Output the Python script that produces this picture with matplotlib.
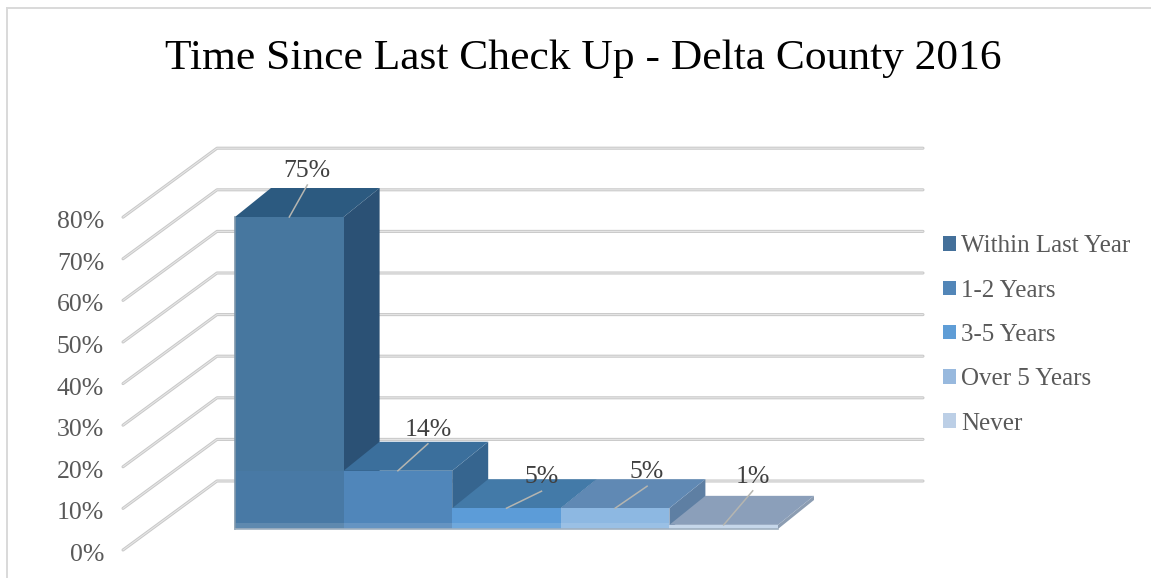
import matplotlib
matplotlib.use('Agg')
import matplotlib.pyplot as plt
from matplotlib.patches import Polygon, Patch

categories = ['Within Last Year', '1-2 Years', '3-5 Years', 'Over 5 Years', 'Never']
values = [75, 14, 5, 5, 1]
value_labels = ['75%', '14%', '5%', '5%', '1%']
ticks = [0, 10, 20, 30, 40, 50, 60, 70, 80]
tick_labels = ['0%', '10%', '20%', '30%', '40%', '50%', '60%', '70%', '80%']

front_colors = ['#47779f', '#5086ba', '#5c9cd8', '#8db8e2', '#bfd2e8']
top_colors = ['#2c5a80', '#3b6f9c', '#437aa8', '#6089b4', '#8b9fba']
side_colors = ['#2b5175', '#36658f', '#3a6c96', '#5e7fa3', '#8c9db2']
legend_colors = ['#44709a', '#5286b8', '#5f9dd6', '#98b9de', '#bccfe6']

# pixels per unit, bar 0 / value 0 sits at (235, 529)
XU = 108.6
YU = 4.16
X0 = 235
Y0 = 529
W, H = 1151, 578
FONT = 'Liberation Serif'
TEXT = '#595959'

# bar depth and wall geometry in data units
DX = 36 / XU
DY = 29 / YU
WALL_FRONT_X = (123 - X0) / XU
WALL_BACK_X = (217 - X0) / XU
WALL_END_X = (923 - X0) / XU
WALL_FRONT_Y = (Y0 - 550) / YU
WALL_BACK_Y = (Y0 - 481) / YU

# where the leader line of each label ends, in pixels from the bar top
leader_dx = [18, 30, 35, 32, 29]
leader_dy = [32, 27, 17, 22, 34]

fig = plt.figure(figsize=(W / 100, H / 100), dpi=100)
ax = fig.add_axes([0, 0, 1, 1])
ax.set_xlim(-X0 / XU, (W - X0) / XU)
ax.set_ylim((Y0 - H) / YU, Y0 / YU)
ax.axis('off')


def grid_line(xs, ys):
    ax.plot(xs, ys, color='#c8c8c8', lw=2.2, solid_capstyle='round', zorder=1)
    ax.plot(xs, ys, color='#e6e6e6', lw=0.8, solid_capstyle='round', zorder=1.1)


for t, lab in zip(ticks, tick_labels):
    grid_line([WALL_FRONT_X, WALL_BACK_X, WALL_END_X],
              [WALL_FRONT_Y + t, WALL_BACK_Y + t, WALL_BACK_Y + t])
    ax.text(WALL_FRONT_X - 19 / XU, WALL_FRONT_Y + t - 5 / YU, lab,
            ha='right', va='center', fontsize=18.5, family=FONT, color=TEXT)

for i, v in enumerate(values):
    front = [(i, 0), (i + 1, 0), (i + 1, v), (i, v)]
    top = [(i, v), (i + 1, v), (i + 1 + DX, v + DY), (i + DX, v + DY)]
    side = [(i + 1, 0), (i + 1 + DX, DY), (i + 1 + DX, v + DY), (i + 1, v)]
    ax.add_patch(Polygon(side, fc=side_colors[i], ec='none', zorder=2 + i))
    ax.add_patch(Polygon(top, fc=top_colors[i], ec='none', zorder=2 + i))
    ax.add_patch(Polygon(front, fc=front_colors[i], ec='none', zorder=2 + i))
    # lighter strip along the foot of the front face
    strip = min(v, 1.4)
    ax.add_patch(Polygon([(i, 0), (i + 1, 0), (i + 1, strip), (i, strip)],
                         fc='white', alpha=0.12, ec='none', zorder=2.1 + i))

# left and bottom edges of the front row
ax.plot([0, 0], [0, values[0]], color='#7f97ab', lw=1.2, zorder=8)
ax.plot([0, len(values)], [0, 0], color='#9fb0c0', lw=1.2, zorder=8)
# bottom band on the tall bar
ax.add_patch(Polygon([(0, 0), (1, 0), (1, values[1]), (0, values[1])],
                     fc='#4a7cab', alpha=0.55, ec='none', zorder=2.05))

for i, v in enumerate(values):
    ex = i + 0.5 + leader_dx[i] / XU
    ey = v + leader_dy[i] / YU
    ax.plot([i + 0.5, ex], [v, ey], color='#b5b5b0', lw=1.1, zorder=9)
    ax.text(ex, ey + 3 / YU, value_labels[i], ha='center', va='bottom', fontsize=18.5,
            family=FONT, color='#404040', zorder=10)

ax.text(583 / W, 1 - 59 / H, 'Time Since Last Check Up - Delta County 2016', transform=ax.transAxes,
        ha='center', va='center', fontsize=31.3, family=FONT, color='black')

# chart frame
ax.plot([6.5 / W, 6.5 / W], [0, 1 - 7.5 / H], transform=ax.transAxes, color='#d9d9d9', lw=1.4)
ax.plot([6.5 / W, 1], [1 - 7.5 / H, 1 - 7.5 / H], transform=ax.transAxes, color='#d9d9d9', lw=1.4)

handles = [Patch(fc=c, ec='none') for c in legend_colors]
ax.legend(handles, categories, loc='center left', bbox_to_anchor=(943 / W, 1 - 335 / H),
          frameon=False, prop={'family': FONT, 'size': 18}, labelcolor=TEXT,
          handlelength=0.52, handleheight=0.52, handletextpad=0.2, labelspacing=0.89,
          borderpad=0, borderaxespad=0)

fig.savefig('out.png', dpi=100)
